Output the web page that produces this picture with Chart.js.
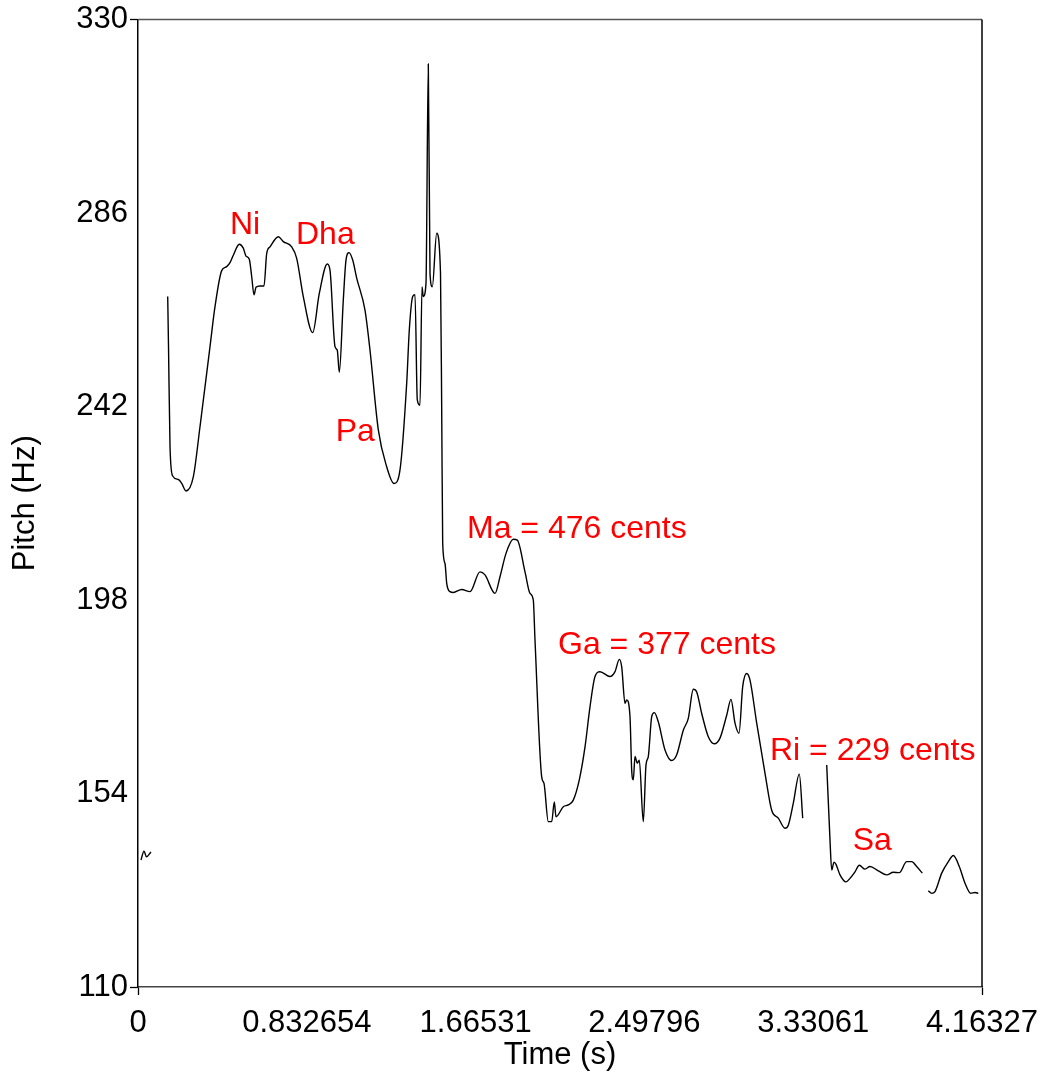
<!DOCTYPE html>
<html><head><meta charset="utf-8">
<script src="https://cdn.jsdelivr.net/npm/chart.js@4/dist/chart.umd.min.js"></script>
<style>html,body{margin:0;padding:0;background:#fff}</style>
</head><body>
<canvas id="c" width="1042" height="1074"></canvas>
<script>
// ---- data ----
const xTickValues = [0, 0.832654, 1.66531, 2.49796, 3.33061, 4.16327];
const xTickLabels = ['0', '0.832654', '1.66531', '2.49796', '3.33061', '4.16327'];
const yTickValues = [110, 154, 198, 242, 286, 330];

const seg0Time = [0.0148, 0.0296, 0.0419, 0.0641];
const seg0Pitch = [138.9, 140.9, 139.6, 140.7];

const seg1Time = [0.1465,0.1504,0.1579,0.1712,0.1988,0.2156,0.2368,0.2728,0.3058,0.3552,
0.3798,0.4129,0.4375,0.4538,0.4701,0.4997,0.5194,0.5327,0.5490,0.5609,
0.5722,0.5821,0.6018,0.6215,0.6349,0.6511,0.6921,0.7167,0.7582,0.7828,
0.8154,0.8618,0.8943,0.9338,0.9471,0.9718,0.9831,0.9930,1.0127,1.0260,
1.0408,1.0591,1.0788,1.1197,1.1444,1.1854,1.2268,1.2628,1.2924,1.3254,
1.3383,1.3550,1.3664,1.3777,1.3911,1.4009,1.4073,1.4206,1.4320,1.4404,
1.4517,1.4734,1.4922,1.4981,1.5030,1.5144,1.5228,1.5390,1.5553,1.5968,
1.6377,1.6870,1.7117,1.7610,1.7857,1.8153,1.8513,1.8710,1.9090,1.9337,
1.9499,1.9583,1.9913,2.0027,2.0239,2.0407,2.0535,2.0619,2.0979,2.1226,
2.1472,2.1768,2.2050,2.2296,2.2543,2.2790,2.3283,2.3530,2.3742,2.3860,
2.4023,2.4107,2.4269,2.4353,2.4432,2.4516,2.4629,2.4728,2.4925,2.5059,
2.5172,2.5340,2.5468,2.5665,2.5996,2.6326,2.6573,2.6899,2.7145,2.7392,
2.7560,2.7806,2.8132,2.8428,2.8709,2.9039,2.9251,2.9449,2.9646,2.9828,
3.0026,3.0189,3.0519,3.0929,3.1259,3.1585,3.1915,3.2078,3.2325,3.2621,
3.2789];
const seg1Pitch = [267.0,256.0,232.9,226.2,225.4,224.5,222.8,226.0,237.4,255.6,
264.7,272.9,273.8,274.7,276.4,278.9,278.0,276.2,275.5,271.5,
267.4,269.1,269.4,269.4,276.8,278.3,280.6,279.5,278.3,275.7,
267.0,258.8,267.7,274.4,273.0,255.6,254.8,249.8,266.2,275.3,
277.0,275.3,271.2,263.9,254.8,236.7,228.3,224.5,227.6,247.3,
259.4,267.0,267.4,243.5,242.3,269.2,267.0,270.0,319.9,272.3,
269.2,281.4,272.3,241.2,210.9,206.3,201.8,199.9,199.7,200.4,
199.9,204.4,203.7,199.5,203.3,208.6,211.8,211.6,204.4,199.5,
198.0,188.9,157.8,156.3,147.6,147.6,152.1,148.7,151.0,151.4,
152.5,157.1,164.6,173.7,180.6,181.7,180.6,181.7,184.5,182.8,
174.5,175.3,171.5,159.3,157.1,162.4,160.9,161.6,147.6,160.5,
162.4,171.5,172.4,170.3,163.9,161.5,162.8,168.4,171.1,177.7,
177.1,172.2,166.9,165.3,166.6,171.8,175.4,170.0,167.7,178.3,
181.3,179.8,170.0,158.6,150.2,148.4,146.1,146.8,151.8,158.4,
148.4];

const seg2Time = [3.3973,3.4135,3.4219,3.4333,3.4431,3.4628,3.4924,3.5121,3.5368,3.5580,
3.5861,3.6108,3.6517,3.6932,3.7257,3.7553,3.7918,3.8165,3.8411,3.8688];
const seg2Pitch = [160.5,143.4,136.6,138.4,137.9,135.5,133.9,134.7,136.2,137.7,
136.8,137.4,136.4,135.5,136.1,136.0,138.5,138.5,137.4,135.9];

const seg3Time = [3.8984,3.9152,3.9314,3.9645,3.9971,4.0217,4.0513,4.0794,4.1075,4.1288,4.1451];
const seg3Pitch = [131.9,131.3,131.7,135.9,138.5,139.9,137.4,133.6,131.3,131.5,131.3];

const noteLabels = ['Ni', 'Dha', 'Pa', 'Ma = 476 cents', 'Ga = 377 cents', 'Ri = 229 cents', 'Sa'];
const noteTimes = [0.4538, 0.7794, 0.9752, 1.6229, 2.0718, 3.1175, 3.5254];
const notePitches = [281.2, 278.95, 234.2, 212.1, 185.7, 161.6, 141.2];

// ---- chart ----
const FONT = "'Liberation Sans', Arial, Helvetica, sans-serif";
const segs = [[seg0Time, seg0Pitch], [seg1Time, seg1Pitch], [seg2Time, seg2Pitch], [seg3Time, seg3Pitch]];
const datasets = segs.map(([t, p]) => ({
  data: t.map((v, i) => ({x: v, y: p[i]})),
  borderColor: '#000', borderWidth: 1.4, pointRadius: 0,
  cubicInterpolationMode: 'monotone', fill: false
}));

const framePlugin = {
  id: 'frame',
  afterDraw(chart) {
    const {ctx, chartArea: a, scales} = chart;
    ctx.save();
    ctx.strokeStyle = '#555'; ctx.lineWidth = 1.5;
    ctx.beginPath(); ctx.moveTo(a.left, a.top); ctx.lineTo(a.right, a.top); ctx.stroke();
    ctx.strokeStyle = '#000';
    ctx.beginPath(); ctx.moveTo(a.right, a.top); ctx.lineTo(a.right, a.bottom); ctx.stroke();
    // note labels
    ctx.fillStyle = '#ff0000';
    ctx.font = "32px " + FONT;
    ctx.textAlign = 'left'; ctx.textBaseline = 'alphabetic';
    noteLabels.forEach((s, i) => {
      ctx.fillText(s, scales.x.getPixelForValue(noteTimes[i]), scales.y.getPixelForValue(notePitches[i]));
    });
    ctx.restore();
  }
};

const edgeTick = (ctx) => (ctx.index === 0 || ctx.index === 5) ? '#000' : 'rgba(0,0,0,0)';

new Chart(document.getElementById('c'), {
  type: 'line',
  data: {datasets},
  plugins: [framePlugin],
  options: {
    responsive: false, animation: false, devicePixelRatio: 1,
    layout: {padding: {top: 19.5, right: 60, left: 0, bottom: 0}},
    plugins: {legend: {display: false}, tooltip: {enabled: false}},
    scales: {
      x: {
        type: 'linear', min: 0, max: 4.16327,
        afterBuildTicks: s => { s.ticks = xTickValues.map(v => ({value: v})); },
        afterFit: s => { s.height = 1074 - 987; s.paddingLeft = 0; s.paddingRight = 0; },
        ticks: {callback: (v, i) => xTickLabels[i], font: {family: FONT, size: 31}, color: '#000',
                padding: 10, maxRotation: 0, autoSkip: false},
        grid: {drawOnChartArea: false, drawTicks: true, tickLength: 8, tickColor: edgeTick, tickWidth: 1.3},
        border: {color: '#444', width: 1.5},
        title: {display: true, text: 'Time (s)', font: {family: FONT, size: 31}, color: '#000', padding: 0}
      },
      y: {
        type: 'linear', min: 110, max: 330,
        afterBuildTicks: s => { s.ticks = yTickValues.map(v => ({value: v})); },
        afterFit: s => { s.width = 138; s.paddingTop = 0; s.paddingBottom = 0; },
        ticks: {font: {family: FONT, size: 31}, color: '#000', padding: 2},
        grid: {drawOnChartArea: false, drawTicks: true, tickLength: 8, tickColor: edgeTick, tickWidth: 1.3},
        border: {color: '#000', width: 1.5},
        title: {display: true, text: 'Pitch (Hz)', font: {family: FONT, size: 31}, color: '#000', padding: 7}
      }
    }
  }
});
</script>
</body></html>
